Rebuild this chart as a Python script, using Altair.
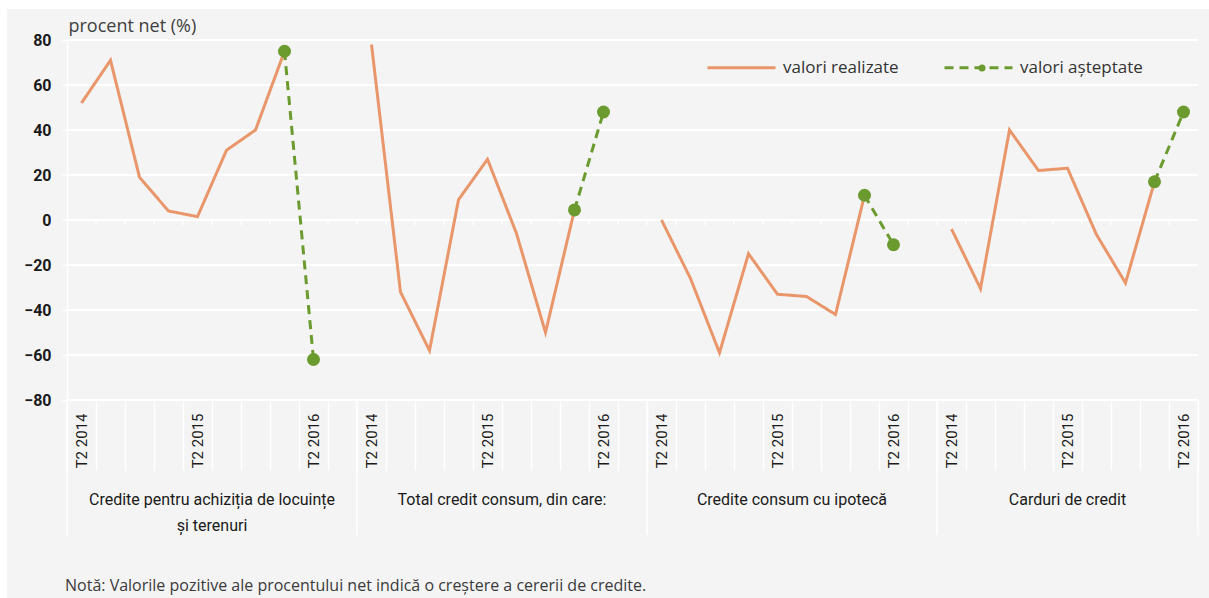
import altair as alt
import pandas as pd

# ---------------- data ----------------
groups = [
    "Credite pentru achiziția de locuințe\nși terenuri",
    "Total credit consum,  din care:",
    "Credite consum  cu ipotecă",
    "Carduri de credit",
]
quarters = ["T2 2014", "T3 2014", "T4 2014", "T1 2015", "T2 2015",
            "T3 2015", "T4 2015", "T1 2016", "T2 2016"]
slots_per_group = [10, 10, 10, 9]

realized = [
    [52, 71, 19, 4, 1.5, 31, 40, 75],
    [78, -32, -58, 9, 27, -6, -50, 4.5],
    [0, -26, -59, -15, -33, -34, -42, 11],
    [-4, -30.5, 40, 22, 23, -6.5, -28, 17],
]
expected = [
    [75, -62],
    [4.5, 48],
    [11, -11],
    [17, 48],
]
series_names = ["valori realizate", "valori așteptate"]
y_ticks = [-80, -60, -40, -20, 0, 20, 40, 60, 80]
y_title = "procent net (%)"
note = "Notă: Valorile pozitive ale procentului net indică o creștere  a cererii  de credite."

# ---------------- tables ----------------
slot_keys = []
group_slots = []
for gi, n in enumerate(slots_per_group):
    ks = []
    for k in range(n):
        q = quarters[k] if k < len(quarters) else ""
        ks.append(f"{gi}|{q}")
    group_slots.append(ks)
    slot_keys.extend(ks)

rows = []
for gi in range(len(groups)):
    for k, v in enumerate(realized[gi]):
        rows.append(dict(slot=f"{gi}|{quarters[k]}", grp=gi, series=series_names[0], value=v))
    start = len(quarters) - len(expected[gi])
    for k, v in enumerate(expected[gi]):
        rows.append(dict(slot=f"{gi}|{quarters[start + k]}", grp=gi, series=series_names[1], value=v))
df = pd.DataFrame(rows)
df_exp = df[df.series == series_names[1]].copy()
df_exp["dot"] = "o"

df_grid = pd.DataFrame({"value": y_ticks})
df_inner = pd.DataFrame({"slot": slot_keys[1:]})
df_gstart = pd.DataFrame({"slot": [ks[0] for ks in group_slots]})
df_gend = pd.DataFrame({"slot": [group_slots[-1][-1]]})

lab_rows = []
for gi, ks in enumerate(group_slots):
    c = len(ks) / 2.0
    idx = int(c)
    lab_rows.append(dict(slot=ks[idx], frac=c - idx, label=groups[gi]))
df_glab = pd.DataFrame(lab_rows)

# ---------------- style ----------------
ORANGE = "#E9966B"
GREEN = "#6B9A2E"
BG = "#F4F4F4"
COND = "Roboto, sans-serif"
SANS = "Open Sans, sans-serif"
W, H = 1131, 360

x_scale = alt.Scale(type="band", domain=slot_keys, paddingInner=0, paddingOuter=0)
x_axis = alt.Axis(
    title=None, domain=False, grid=False, ticks=True, tickBand="extent",
    tickSize=70, tickColor="white", tickWidth=1.5, zindex=1,
    labelAngle=-90, labelPadding=-57,
    labelExpr="isString(datum.value) && indexof(datum.value, '|T2') >= 0 ? split(datum.value, '|')[1] : ''",
    labelFont=COND, labelFontSize=15, labelColor="#1a1a1a",
)
y_scale = alt.Scale(domain=[y_ticks[0], y_ticks[-1]], nice=False)
y_axis = alt.Axis(
    values=y_ticks, title=y_title, zindex=1,
    titleAngle=0, titleAlign="left", titleBaseline="middle", titleX=1, titleY=-14,
    titleFont=SANS, titleFontSize=18, titleFontWeight="normal", titleColor="#404040",
    grid=False,
    domain=True, domainColor="white", domainWidth=1.5,
    ticks=True, tickColor="white", tickSize=5, tickWidth=1.5,
    labelPadding=11, labelFont=COND, labelFontSize=16, labelFontWeight="bold",
    labelColor="#1a1a1a",
)


def xenc(bp=None):
    if bp is None:
        return alt.X("slot:O", scale=x_scale, axis=x_axis)
    return alt.X("slot:O", scale=x_scale, axis=x_axis, bandPosition=bp)


Y = alt.Y("value:Q", scale=y_scale, axis=y_axis)

legend = alt.Legend(
    title=None, orient="none", legendX=639, legendY=-8, direction="horizontal",
    symbolType="stroke", symbolSize=4624, symbolStrokeWidth=3,
    labelFont=SANS, labelFontSize=17, labelColor="#333333",
    labelOffset=6, columnPadding=39, padding=0,
)

background = alt.Chart(alt.Data(values=[{}])).mark_rect(color=BG).encode(
    x=alt.value(-60), x2=alt.value(W + 11), y=alt.value(-31), y2=alt.value(558)
)

grid = alt.Chart(df_grid).mark_rule(color="white", strokeWidth=2).encode(
    y=Y, x=alt.value(0), x2=alt.value(W),
)

zero_ticks = alt.Chart(df_inner).mark_rule(color="white", strokeWidth=1.5).encode(
    x=xenc(0),
    y=alt.Y(datum=0, scale=y_scale, axis=y_axis),
    y2=alt.Y2(datum=-2.2),
)

lines = alt.Chart(df).mark_line(strokeWidth=3).encode(
    x=xenc(), y=Y,
    color=alt.Color("series:N", scale=alt.Scale(domain=series_names, range=[ORANGE, GREEN]), legend=legend),
    strokeDash=alt.StrokeDash("series:N", scale=alt.Scale(domain=series_names, range=[[1, 0], [9, 6]]), legend=legend),
    detail="grp:N",
)

points = alt.Chart(df_exp).mark_point(filled=True, size=169, color=GREEN, opacity=1).encode(
    x=xenc(), y=Y,
    shape=alt.Shape("dot:N", scale=alt.Scale(range=["circle"]),
                    legend=alt.Legend(title=None, orient="none", legendX=910, legendY=23,
                                      labelExpr="''", symbolSize=49, symbolFillColor=GREEN,
                                      symbolStrokeColor=GREEN, symbolStrokeWidth=0, padding=0)),
)

gstart_rules = alt.Chart(df_gstart).mark_rule(color="white", strokeWidth=1.5).encode(
    x=xenc(0), y=alt.value(H), y2=alt.value(H + 135),
)
gend_rules = alt.Chart(df_gend).mark_rule(color="white", strokeWidth=1.5).encode(
    x=xenc(1), y=alt.value(H), y2=alt.value(H + 135),
)

text_layers = []
for fr in sorted(df_glab.frac.unique()):
    sub = df_glab[df_glab.frac == fr]
    text_layers.append(
        alt.Chart(sub).mark_text(
            font=COND, fontSize=16, color="#1a1a1a", baseline="top", align="center",
            lineBreak="\n", lineHeight=26,
        ).encode(x=xenc(float(fr)), y=alt.value(452), text="label:N")
    )

note_text = alt.Chart(alt.Data(values=[{"t": note}])).mark_text(
    font=SANS, fontSize=16, color="#3a3a3a", align="left", baseline="middle"
).encode(x=alt.value(-2), y=alt.value(546), text="t:N")

chart = alt.layer(
    background, grid, zero_ticks, lines, points, gstart_rules, gend_rules, *text_layers, note_text
).properties(
    width=W, height=H,
    padding={"left": 7, "top": 9, "right": 0, "bottom": 0},
    background="white",
).configure_view(stroke=None)

chart.save("out.html", embed_options={"renderer": "svg", "actions": False})
